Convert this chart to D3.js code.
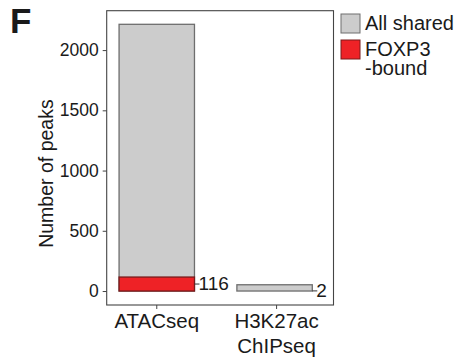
<!DOCTYPE html>
<html>
<head>
<meta charset="utf-8">
<script src="https://cdn.jsdelivr.net/npm/d3@7"></script>
<style>
  body { margin: 0; background: #fff; }
  text { font-family: "Liberation Sans", Arial, Helvetica, sans-serif; fill: #1a1a1a; }
</style>
</head>
<body>
<div id="chart"></div>
<script>
// data
const categories = ["ATACseq", "H3K27ac\nChIPseq"];
const allShared = [2214, 52];
const foxp3Bound = [116, 2];
const yTicks = [0, 500, 1000, 1500, 2000];
const legendLabels = ["All shared", "FOXP3\n-bound"];

const width = 457, height = 362;
const panel = { left: 106.7, right: 333.5, top: 10.7, bottom: 305 };

const svg = d3.select("#chart").append("svg")
  .attr("width", width)
  .attr("height", height);

// x positions by category index, y by count
const x = d3.scaleLinear().domain([-0.425, 1.5]).range([panel.left, panel.right]);
const y = d3.scaleLinear().domain([-116, 2327]).range([panel.bottom, panel.top]);
const barW = 0.64;

const colGrey = "#cccccc", colRed = "#ee2226";

// bars: grey total first, red part on top of it
svg.selectAll(".bar-all")
  .data(allShared)
  .enter()
  .append("rect")
  .attr("x", (d, i) => x(i - barW / 2))
  .attr("y", (d) => y(d))
  .attr("width", x(barW) - x(0))
  .attr("height", (d) => y(0) - y(d))
  .attr("fill", colGrey)
  .attr("stroke", "#6e6e6e")
  .attr("stroke-width", 1.3);

svg.selectAll(".bar-fox")
  .data(foxp3Bound)
  .enter()
  .append("rect")
  .attr("x", (d, i) => x(i - barW / 2))
  .attr("y", (d) => y(d))
  .attr("width", x(barW) - x(0))
  .attr("height", (d) => y(0) - y(d))
  .attr("fill", colRed)
  .attr("stroke", "#7a1a1a")
  .attr("stroke-width", 1.3)
  .attr("display", (d) => (d < 10 ? "none" : null));

// value labels with small leader line
const lab = svg.selectAll(".vlab")
  .data(foxp3Bound)
  .enter()
  .append("g")
  .attr("transform", (d, i) => `translate(${x(i + barW / 2)}, ${y(d / 2)})`);

lab.append("line")
  .attr("x1", 0).attr("x2", 5)
  .attr("stroke", "#333").attr("stroke-width", 1);

lab.append("text")
  .attr("x", 4)
  .attr("dy", "0.33em")
  .style("font-size", "19px")
  .text((d) => d);

// panel frame
svg.append("rect")
  .attr("x", panel.left)
  .attr("y", panel.top)
  .attr("width", panel.right - panel.left)
  .attr("height", panel.bottom - panel.top)
  .attr("fill", "none")
  .attr("stroke", "#444")
  .attr("stroke-width", 1.1);

// y axis
const yAxis = svg.append("g")
  .attr("transform", `translate(${panel.left}, 0)`)
  .call(d3.axisLeft(y).tickValues(yTicks).tickFormat(d3.format("d")).tickSize(4).tickPadding(4));
yAxis.select(".domain").remove();
yAxis.selectAll("line").attr("stroke", "#444");
yAxis.selectAll("text")
  .style("font-size", "17.5px")
  .style("font-family", "'Liberation Sans', Arial, sans-serif")
  .attr("fill", "#1a1a1a");

// x axis ticks and two-line labels
svg.selectAll(".xtick")
  .data(categories)
  .enter()
  .append("line")
  .attr("x1", (d, i) => x(i) + (i === 1 ? 2 : 0))
  .attr("x2", (d, i) => x(i) + (i === 1 ? 2 : 0))
  .attr("y1", panel.bottom)
  .attr("y2", panel.bottom + 4)
  .attr("stroke", "#444");

const xl = svg.selectAll(".xlab")
  .data(categories)
  .enter()
  .append("text")
  .attr("x", (d, i) => x(i) + (i === 1 ? 2 : 0))
  .attr("y", 327.5)
  .style("font-size", "20.5px")
  .style("text-anchor", "middle");
xl.selectAll("tspan")
  .data((d) => d.split("\n"))
  .enter()
  .append("tspan")
  .attr("x", function () { return this.parentNode.getAttribute("x"); })
  .attr("dy", (d, i) => (i === 0 ? 0 : 25.5))
  .text((d) => d);

// y title
svg.append("text")
  .attr("transform", `translate(53, ${(y(0) + y(2000)) / 2 + 3}) rotate(-90)`)
  .style("text-anchor", "middle")
  .style("font-size", "19.5px")
  .text("Number of peaks");

// panel letter
svg.append("text")
  .attr("x", 10)
  .attr("y", 33)
  .style("font-size", "35px")
  .style("font-weight", "bold")
  .text("F");

// legend
const legend = svg.append("g").attr("transform", "translate(341, 14)");
const legItems = legend.selectAll("g")
  .data(legendLabels)
  .enter()
  .append("g")
  .attr("transform", (d, i) => `translate(0, ${i * 26})`);

legItems.append("rect")
  .attr("width", 19)
  .attr("height", 19)
  .attr("fill", (d, i) => (i === 0 ? colGrey : colRed))
  .attr("stroke", (d, i) => (i === 0 ? "#6e6e6e" : "#7a1a1a"))
  .attr("stroke-width", 1);

legItems.append("text")
  .attr("x", 24)
  .attr("y", 16)
  .style("font-size", "20px")
  .selectAll("tspan")
  .data((d) => d.split("\n"))
  .enter()
  .append("tspan")
  .attr("x", 24)
  .attr("dy", (d, i) => (i === 0 ? 0 : 19))
  .text((d) => d);
</script>
</body>
</html>
